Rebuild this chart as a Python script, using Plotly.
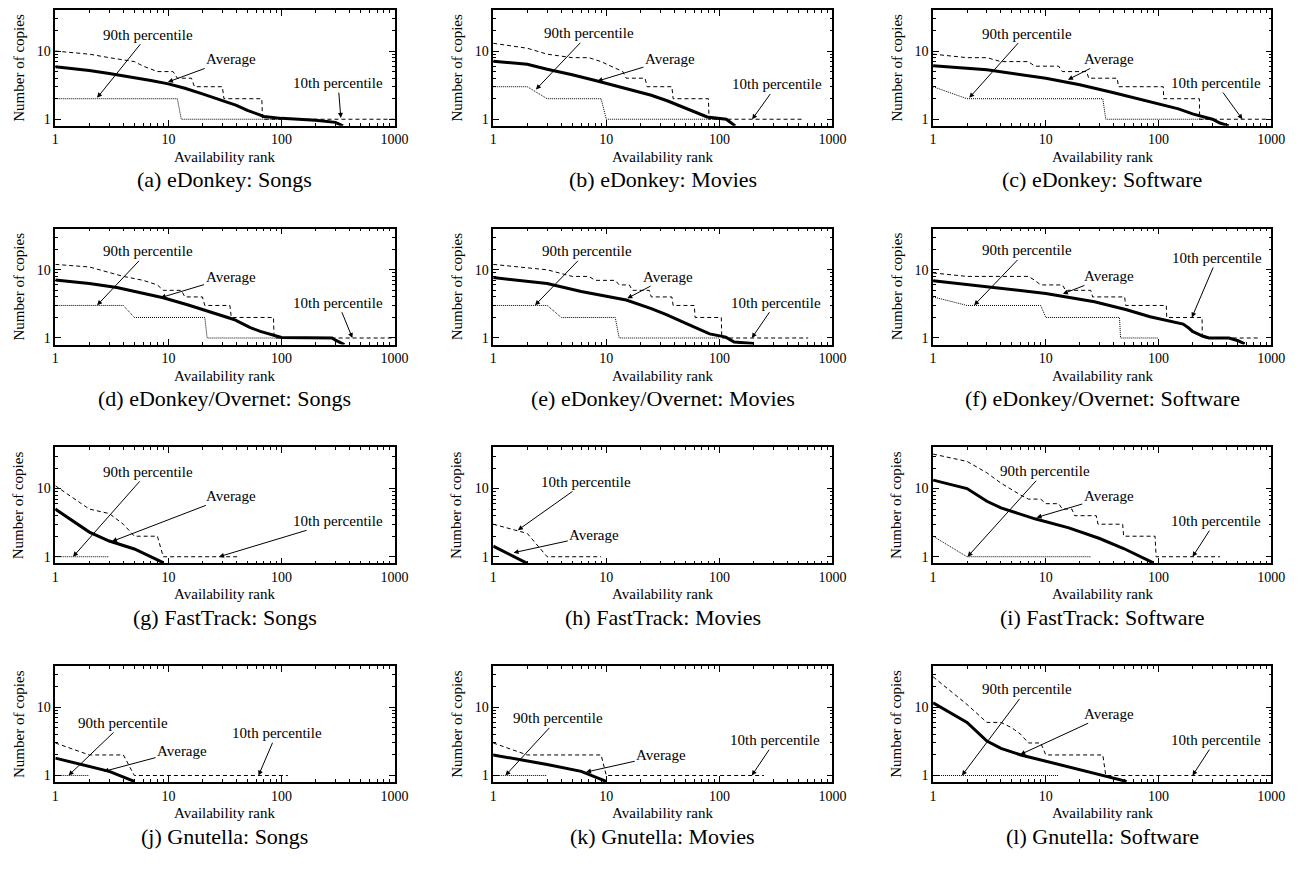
import math
import plotly.graph_objects as go

# ---------------- data ----------------
CAPTIONS = ["(a) eDonkey: Songs", "(b) eDonkey: Movies", "(c) eDonkey: Software",
            "(d) eDonkey/Overnet: Songs", "(e) eDonkey/Overnet: Movies", "(f) eDonkey/Overnet: Software",
            "(g) FastTrack: Songs", "(h) FastTrack: Movies", "(i) FastTrack: Software",
            "(j) Gnutella: Songs", "(k) Gnutella: Movies", "(l) Gnutella: Software"]
X_TICKS = [1, 10, 100, 1000]
Y_TICKS = [1, 10]
X_TITLE = "Availability rank"
Y_TITLE = "Number of copies"

# (a) eDonkey: Songs
a_dash_x = [1, 2, 3, 5, 6, 8, 11, 12, 16, 17, 30, 31, 67, 68, 1000]
a_dash_y = [10, 9, 8, 7, 6, 5, 5, 4, 4, 3, 3, 2, 2, 1, 1]
a_avg_x = [1, 2, 3, 5, 7, 10, 14, 20, 30, 40, 50, 60, 70, 100, 200, 300, 350]
a_avg_y = [5.9, 5.2, 4.7, 4.1, 3.7, 3.3, 2.85, 2.35, 1.9, 1.6, 1.35, 1.2, 1.1, 1.03, 0.97, 0.9, 0.8]
a_dot_x = [1, 12, 13, 100]
a_dot_y = [2, 2, 1, 1]

# (b) eDonkey: Movies
b_dash_x = [1, 2, 3, 5, 7, 9, 11, 14, 15, 22, 23, 38, 39, 80, 81, 560]
b_dash_y = [13, 11, 9, 8, 8, 7, 6, 5, 4, 4, 3, 3, 2, 2, 1, 1]
b_avg_x = [1, 2, 3, 5, 8, 14, 25, 35, 46, 60, 78, 115, 138]
b_avg_y = [7.1, 6.4, 5.4, 4.5, 3.7, 2.9, 2.25, 1.85, 1.55, 1.3, 1.08, 1.0, 0.8]
b_dot_x = [1, 2, 3, 9, 10, 110]
b_dot_y = [3, 3, 2, 2, 1, 1]

# (c) eDonkey: Software
c_dash_x = [1, 2, 3, 4, 7, 8, 13, 14, 23, 24, 43, 44, 110, 111, 230, 231, 950]
c_dash_y = [9, 8, 8, 7, 7, 6, 6, 5, 5, 4, 4, 3, 3, 2, 2, 1, 1]
c_avg_x = [1, 3, 10, 20, 40, 80, 100, 150, 200, 300, 350, 420]
c_avg_y = [6.1, 5.3, 4.0, 3.2, 2.45, 1.85, 1.7, 1.42, 1.2, 1.0, 0.88, 0.8]
c_dot_x = [1, 2, 32, 34, 300]
c_dot_y = [3, 2, 2, 1, 1]

# (d) eDonkey/Overnet: Songs
d_dash_x = [1, 2, 4, 6, 8, 9, 13, 14, 20, 21, 35, 36, 85, 86, 1000]
d_dash_y = [12, 11, 8, 7, 6, 5, 5, 4, 4, 3, 3, 2, 2, 1, 1]
d_avg_x = [1, 2, 3.5, 9, 15, 22, 30, 38, 46, 53, 65, 79, 100, 280, 300, 360]
d_avg_y = [7.1, 6.3, 5.5, 3.9, 3.05, 2.5, 2.15, 1.87, 1.6, 1.42, 1.25, 1.15, 1.02, 1.0, 0.93, 0.8]
d_dot_x = [1, 4, 5, 21, 22, 100]
d_dot_y = [3, 3, 2, 2, 1, 1]

# (e) eDonkey/Overnet: Movies
e_dash_x = [1, 3, 5, 7, 8, 12, 13, 16, 17, 24, 25, 38, 39, 60, 61, 104, 105, 610]
e_dash_y = [12, 10, 8, 8, 7, 7, 6, 6, 5, 5, 4, 4, 3, 3, 2, 2, 1, 1]
e_avg_x = [1, 3, 6, 15, 25, 34, 50, 63, 82, 114, 135, 200]
e_avg_y = [7.7, 6.3, 4.8, 3.6, 2.7, 2.2, 1.65, 1.4, 1.15, 1.03, 0.87, 0.83]
e_dot_x = [1, 3, 4, 12, 13, 100]
e_dot_y = [3, 3, 2, 2, 1, 1]

# (f) eDonkey/Overnet: Software
f_dash_x = [1, 2, 7, 8, 9, 14, 15, 25, 26, 50, 51, 117, 118, 243, 244, 765]
f_dash_y = [9, 8, 8, 7, 6, 6, 5, 5, 4, 4, 3, 3, 2, 2, 1, 1]
f_avg_x = [1, 3.5, 10, 27, 52, 84, 165, 185, 200, 245, 280, 420, 500, 580]
f_avg_y = [6.9, 5.4, 4.5, 3.4, 2.6, 2.05, 1.6, 1.4, 1.25, 1.07, 1.0, 1.0, 0.92, 0.82]
f_dot_x = [1, 2, 9, 10, 45, 46, 100]
f_dot_y = [4, 3, 3, 2, 2, 1, 1]

# (g) FastTrack: Songs
g_dash_x = [1, 2, 3, 4, 5, 8, 9, 43]
g_dash_y = [11, 5, 4.3, 3, 2, 2, 1, 1]
g_avg_x = [1, 2, 3, 5, 9]
g_avg_y = [5, 2.3, 1.7, 1.3, 0.82]
g_dot_x = [1, 3]
g_dot_y = [1, 1]

# (h) FastTrack: Movies
h_dash_x = [1, 2, 3, 9]
h_dash_y = [3, 2.2, 1, 1]
h_avg_x = [1, 2]
h_avg_y = [1.43, 0.8]
h_dot_x = []
h_dot_y = []

# (i) FastTrack: Software
i_dash_x = [1, 2, 3, 4, 6, 7, 9, 10, 13, 14, 17, 18, 28, 29, 48, 49, 93, 95, 350]
i_dash_y = [32, 25, 17, 12, 8, 7, 7, 6, 6, 5, 5, 4, 4, 3, 3, 2, 2, 1, 1]
i_avg_x = [1, 2, 3, 4, 8, 16, 30, 49, 89]
i_avg_y = [13.3, 10, 6.5, 5.2, 3.6, 2.65, 1.85, 1.32, 0.82]
i_dot_x = [1, 2, 25]
i_dot_y = [2, 1, 1]

# (j) Gnutella: Songs
j_dash_x = [1, 2, 4, 5, 114]
j_dash_y = [3, 2, 2, 1, 1]
j_avg_x = [1, 3, 5]
j_avg_y = [1.8, 1.15, 0.82]
j_dot_x = [1, 2]
j_dot_y = [1, 1]

# (k) Gnutella: Movies
k_dash_x = [1, 2, 9, 10, 248]
k_dash_y = [3, 2, 2, 1, 1]
k_avg_x = [1, 3, 6, 10]
k_avg_y = [2, 1.45, 1.15, 0.82]
k_dot_x = [1, 3]
k_dot_y = [1, 1]

# (l) Gnutella: Software
l_dash_x = [1, 2, 3, 4, 5, 6, 7, 9, 10, 32, 34, 1000]
l_dash_y = [28, 11, 6, 6, 5, 4, 3, 3, 2, 2, 1, 1]
l_avg_x = [1, 2, 3, 4, 6, 10, 19, 33, 52]
l_avg_y = [11.6, 6, 3.2, 2.5, 2.0, 1.62, 1.26, 1.0, 0.82]
l_dot_x = [1, 13]
l_dot_y = [1, 1]

PANELS = [
    (a_dash_x, a_dash_y, a_avg_x, a_avg_y, a_dot_x, a_dot_y),
    (b_dash_x, b_dash_y, b_avg_x, b_avg_y, b_dot_x, b_dot_y),
    (c_dash_x, c_dash_y, c_avg_x, c_avg_y, c_dot_x, c_dot_y),
    (d_dash_x, d_dash_y, d_avg_x, d_avg_y, d_dot_x, d_dot_y),
    (e_dash_x, e_dash_y, e_avg_x, e_avg_y, e_dot_x, e_dot_y),
    (f_dash_x, f_dash_y, f_avg_x, f_avg_y, f_dot_x, f_dot_y),
    (g_dash_x, g_dash_y, g_avg_x, g_avg_y, g_dot_x, g_dot_y),
    (h_dash_x, h_dash_y, h_avg_x, h_avg_y, h_dot_x, h_dot_y),
    (i_dash_x, i_dash_y, i_avg_x, i_avg_y, i_dot_x, i_dot_y),
    (j_dash_x, j_dash_y, j_avg_x, j_avg_y, j_dot_x, j_dot_y),
    (k_dash_x, k_dash_y, k_avg_x, k_avg_y, k_dot_x, k_dot_y),
    (l_dash_x, l_dash_y, l_avg_x, l_avg_y, l_dot_x, l_dot_y),
]

# ---------------- layout (label placement, in log10 axis units) ----------------
# (text, text_x, text_y, head_x, head_y)
LABELS = [
    [("90th percentile", 0.82, 1.24, 0.37, 0.314), ("Average", 1.55, 0.884, 0.996, 0.546),
     ("10th percentile", 2.50, 0.53, 2.525, 0.02)],
    [("90th percentile", 0.85, 1.26, 0.378, 0.436), ("Average", 1.563, 0.882, 0.922, 0.559),
     ("10th percentile", 2.51, 0.51, 2.29, 0.0)],
    [("90th percentile", 0.83, 1.256, 0.321, 0.314), ("Average", 1.56, 0.884, 1.196, 0.58),
     ("10th percentile", 2.51, 0.531, 2.743, 0.0)],
    [("90th percentile", 0.82, 1.271, 0.37, 0.48), ("Average", 1.55, 0.90, 0.932, 0.591),
     ("10th percentile", 2.50, 0.517, 2.627, 0.0)],
    [("90th percentile", 0.83, 1.271, 0.37, 0.48), ("Average", 1.55, 0.90, 1.186, 0.581),
     ("10th percentile", 2.50, 0.517, 2.287, 0.0)],
    [("90th percentile", 0.83, 1.284, 0.364, 0.48), ("Average", 1.558, 0.91, 1.151, 0.647),
     ("10th percentile", 2.52, 1.174, 2.295, 0.301)],
    [("90th percentile", 0.82, 1.244, 0.157, 0.0), ("Average", 1.55, 0.893, 0.501, 0.224),
     ("10th percentile", 2.50, 0.527, 1.448, 0.0)],
    [("10th percentile", 0.82, 1.098, 0.218, 0.39), ("Average", 0.894, 0.317, 0.18, 0.059)],
    [("90th percentile", 0.99, 1.254, 0.306, 0.0), ("Average", 1.558, 0.888, 0.918, 0.576),
     ("10th percentile", 2.505, 0.522, 2.301, 0.0)],
    [("90th percentile", 0.603, 0.771, 0.117, 0.0), ("Average", 1.121, 0.366, 0.428, 0.059),
     ("10th percentile", 1.957, 0.62, 1.797, 0.0)],
    [("90th percentile", 0.574, 0.837, 0.108, 0.0), ("Average", 1.486, 0.296, 0.821, 0.05),
     ("10th percentile", 2.496, 0.517, 2.287, 0.0)],
    [("90th percentile", 0.83, 1.262, 0.256, 0.0), ("Average", 1.558, 0.906, 0.773, 0.307),
     ("10th percentile", 2.505, 0.52, 2.301, 0.0)],
]

W, H = 1312, 872
COL_X = [(52, 396), (496, 840), (942, 1285)]
ROW_TOP = [10, 229, 448, 667]
PLOT_H = 116
FONT = "Liberation Serif"

fig = go.Figure()
annotations = []
layout_axes = {}

x_minor = [m * 10 ** d for d in range(3) for m in range(2, 10)]
y_minor = [2, 3, 4, 5, 6, 7, 8, 9, 20, 30]

for idx, (dx, dy, ax_, ay_, ox, oy) in enumerate(PANELS):
    r, c = divmod(idx, 3)
    n = idx + 1
    xs = "" if n == 1 else str(n)
    xref, yref = "x" + xs, "y" + xs
    x0, x1 = COL_X[c]
    top = ROW_TOP[r]
    bot = top + PLOT_H

    common = dict(
        type="log", showline=True, linecolor="black", linewidth=1.5, mirror="allticks",
        ticks="inside", ticklen=6, tickwidth=1, tickcolor="black", showgrid=False,
        zeroline=False, tickfont=dict(family=FONT, size=14, color="black"),
    )
    layout_axes["xaxis" + xs] = dict(
        common, domain=[x0 / W, x1 / W], anchor=yref, range=[0, 3],
        tickmode="array", tickvals=X_TICKS, ticktext=[str(v) for v in X_TICKS],
        minor=dict(ticks="inside", ticklen=3, tickcolor="black", tickmode="array",
                   tickvals=x_minor, showgrid=False),
    )
    layout_axes["yaxis" + xs] = dict(
        common, domain=[1 - bot / H, 1 - top / H], anchor=xref,
        range=[math.log10(0.8), math.log10(40)],
        tickmode="array", tickvals=Y_TICKS, ticktext=[str(v) for v in Y_TICKS],
        minor=dict(ticks="inside", ticklen=3, tickcolor="black", tickmode="array",
                   tickvals=y_minor, showgrid=False),
    )

    fig.add_trace(go.Scatter(x=dx, y=dy, mode="lines", xaxis=xref, yaxis=yref,
                             line=dict(color="black", width=1, dash="4px,3px"), showlegend=False))
    if ox:
        fig.add_trace(go.Scatter(x=ox, y=oy, mode="lines", xaxis=xref, yaxis=yref,
                                 line=dict(color="black", width=1, dash="1px,1px"), showlegend=False))
    fig.add_trace(go.Scatter(x=ax_, y=ay_, mode="lines", xaxis=xref, yaxis=yref,
                             line=dict(color="black", width=3), showlegend=False))

    for text, tx, ty, hx, hy in LABELS[idx]:
        annotations.append(dict(
            xref=xref, yref=yref, axref=xref, ayref=yref, x=hx, y=hy, ax=tx, ay=ty,
            text=text, showarrow=True, arrowhead=2, arrowsize=1, arrowwidth=1,
            arrowcolor="black", font=dict(family=FONT, size=15, color="black"),
        ))

    xc = (x0 + x1) / 2 / W
    annotations.append(dict(xref="paper", yref="paper", x=xc, y=1 - (bot + 31) / H,
                            text=X_TITLE, showarrow=False, xanchor="center", yanchor="middle",
                            font=dict(family=FONT, size=15, color="black")))
    annotations.append(dict(xref="paper", yref="paper", x=(x0 - 37) / W, y=1 - (top + bot) / 2 / H,
                            text=Y_TITLE, showarrow=False, textangle=-90,
                            xanchor="center", yanchor="middle",
                            font=dict(family=FONT, size=15, color="black")))
    annotations.append(dict(xref="paper", yref="paper", x=xc, y=1 - (bot + 54) / H,
                            text=CAPTIONS[idx], showarrow=False, xanchor="center", yanchor="middle",
                            font=dict(family=FONT, size=22, color="black")))

fig.update_layout(
    width=W, height=H, margin=dict(l=0, r=0, t=0, b=0),
    paper_bgcolor="white", plot_bgcolor="white", showlegend=False,
    annotations=annotations, **layout_axes,
)

fig.write_html("out.html")
